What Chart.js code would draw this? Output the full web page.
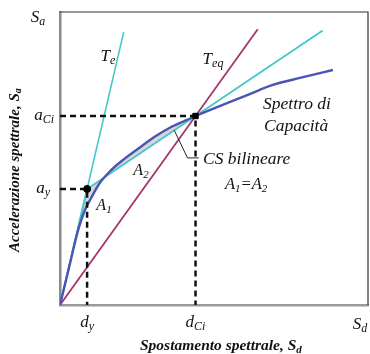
<!DOCTYPE html>
<html>
<head>
<meta charset="utf-8">
<script src="https://cdn.jsdelivr.net/npm/chart.js@4"></script>
<style>
  body { margin: 0; background: #fff; }
  #wrap { width: 370px; height: 354px; }
</style>
</head>
<body>
<div id="wrap"><canvas id="myChart"></canvas></div>
<script>
// punti caratteristici (unita' arbitrarie Sd / Sa)
const dyVal = 8.8, ayVal = 39.6;
const dCiVal = 44, aCiVal = 64.5;

// spettro di capacita'
const capX = [0, 2.9, 5.9, 8.1, 10.1, 12.7, 16.0, 20.8, 25.7, 30.6, 35.5, 40.4, 44.0, 52.8, 61.6, 69.1, 77.9, 88.6];
const capY = [0, 12.6, 25.6, 32.4, 36.5, 41.3, 45.4, 49.8, 53.6, 57.3, 60.4, 62.8, 64.5, 68.3, 72.0, 75.1, 77.5, 80.2];

// rette
const teX = [0, 20.7], teY = [0, 93.2];
const bilX = [0, dyVal, dCiVal, 85.3], bilY = [0, ayVal, aCiVal, 93.7];
const teqX = [0, 64.2], teqY = [0, 94.1];

function pts(xs, ys) {
  return xs.map((x, i) => ({ x: x, y: ys[i] }));
}

const capPts = pts(capX, capY);
const capPart = capPts.filter(p => p.x <= dCiVal);
const bilPart = pts(bilX, bilY).filter(p => p.x <= dCiVal);

const serif = "'Liberation Serif', 'DejaVu Serif', serif";

// testo con pedice, restituisce la larghezza
function sub(ctx, base, s, x, y, size, align, weight) {
  const w = weight ? weight + " " : "";
  const fb = w + "italic " + size + "px " + serif;
  const fs = w + "italic " + Math.round(size * 0.68) + "px " + serif;
  ctx.font = fb;
  const w1 = ctx.measureText(base).width;
  ctx.font = fs;
  const w2 = ctx.measureText(s).width;
  let x0 = x;
  if (align === "center") x0 = x - (w1 + w2) / 2;
  if (align === "right") x0 = x - (w1 + w2);
  ctx.textAlign = "left";
  ctx.textBaseline = "middle";
  ctx.font = fb;
  ctx.fillText(base, x0, y);
  ctx.font = fs;
  ctx.fillText(s, x0 + w1, y + size * 0.25);
  return w1 + w2;
}

const frame = {
  id: "frame",
  beforeDatasetsDraw(chart) {
    const c = chart.ctx, a = chart.chartArea;
    c.save();
    c.strokeStyle = "#333";
    c.lineWidth = 1.2;
    c.beginPath();
    c.moveTo(a.left, a.top);
    c.lineTo(a.right, a.top);
    c.lineTo(a.right, a.bottom);
    c.stroke();
    c.restore();
  }
};

const labels = {
  id: "labels",
  afterDraw(chart) {
    const ctx = chart.ctx;
    const xs = chart.scales.x, ys = chart.scales.y;
    const a = chart.chartArea;
    ctx.save();
    ctx.fillStyle = "#111";
    // tick
    sub(ctx, "a", "Ci", a.left - 6, ys.getPixelForValue(aCiVal), 17, "right");
    sub(ctx, "a", "y", a.left - 10, ys.getPixelForValue(ayVal), 17, "right");
    sub(ctx, "d", "y", xs.getPixelForValue(dyVal), a.bottom + 18, 17, "center");
    sub(ctx, "d", "Ci", xs.getPixelForValue(dCiVal), a.bottom + 18, 17, "center");
    sub(ctx, "S", "d", a.right - 8, a.bottom + 20, 17, "center");
    sub(ctx, "S", "a", 38, 18, 17, "center");
    // curve
    sub(ctx, "T", "e", 108, 57, 17, "center");
    sub(ctx, "T", "eq", 213, 60, 17, "center");
    sub(ctx, "A", "2", 141, 171, 16, "center");
    sub(ctx, "A", "1", 104, 206, 16, "center");
    ctx.font = "italic 17.5px " + serif;
    ctx.textAlign = "left";
    ctx.textBaseline = "middle";
    ctx.fillText("Spettro di", 263, 104);
    ctx.fillText("Capacità", 264, 126);
    ctx.fillText("CS bilineare", 203, 159);
    const wA1 = sub(ctx, "A", "1", 225, 185, 16.5, "left");
    ctx.font = "italic 16.5px " + serif;
    ctx.fillText("=", 225 + wA1, 185);
    sub(ctx, "A", "2", 225 + wA1 + ctx.measureText("=").width, 185, 16.5, "left");
    // titoli assi
    sub(ctx, "Spostamento spettrale, S", "d", 140, 346, 15.5, "left", "bold");
    ctx.translate(15, 252);
    ctx.rotate(-Math.PI / 2);
    sub(ctx, "Accelerazione spettrale, S", "a", 0, 0, 15, "left", "bold");
    ctx.restore();
  }
};

const noTicks = { display: false, padding: 0 };
const noGrid = { display: false, drawTicks: false, tickLength: 0 };

const ctx = document.getElementById("myChart");
new Chart(ctx, {
  type: "scatter",
  data: {
    datasets: [
      {
        label: "punti",
        data: [{ x: dyVal, y: ayVal }, { x: dCiVal, y: aCiVal }],
        pointStyle: ["circle", "rect"],
        pointRadius: [3.5, 3.8],
        backgroundColor: "#000",
        borderColor: "#000",
        order: 0
      },
      {
        label: "dash ay",
        data: [{ x: 0, y: ayVal }, { x: dyVal, y: ayVal }, { x: dyVal, y: 0 }],
        showLine: true,
        borderColor: "#111",
        borderWidth: 2.5,
        borderDash: [6, 4],
        pointRadius: 0,
        order: 1
      },
      {
        label: "dash aCi",
        data: [{ x: 0, y: aCiVal }, { x: dCiVal, y: aCiVal }, { x: dCiVal, y: 0 }],
        showLine: true,
        borderColor: "#111",
        borderWidth: 2.5,
        borderDash: [6, 4],
        pointRadius: 0,
        order: 1
      },
      {
        label: "richiamo",
        data: [{ x: 37.1, y: 59.6 }, { x: 41.4, y: 50.2 }, { x: 45.0, y: 50.2 }],
        showLine: true,
        borderColor: "#222",
        borderWidth: 1,
        pointRadius: 0,
        order: 1
      },
      {
        label: "Te",
        data: pts(teX, teY),
        showLine: true,
        borderColor: "#45c6c8",
        borderWidth: 1.6,
        pointRadius: 0,
        order: 3
      },
      {
        label: "bilineare",
        data: pts(bilX, bilY),
        showLine: true,
        borderColor: "#45c6c8",
        borderWidth: 1.8,
        pointRadius: 0,
        order: 3
      },
      {
        label: "Teq",
        data: pts(teqX, teqY),
        showLine: true,
        borderColor: "#a3366c",
        borderWidth: 1.8,
        pointRadius: 0,
        order: 4
      },
      {
        label: "Spettro di Capacita",
        data: capPts,
        showLine: true,
        borderColor: "#4a54b2",
        borderWidth: 2.4,
        cubicInterpolationMode: "monotone",
        pointRadius: 0,
        order: 2
      },
      {
        label: "area",
        data: bilPart,
        showLine: true,
        borderWidth: 0,
        pointRadius: 0,
        fill: "+1",
        backgroundColor: "rgba(175,175,175,0.5)",
        order: 5
      },
      {
        label: "area cap",
        data: capPart,
        showLine: true,
        borderWidth: 0,
        borderColor: "rgba(0,0,0,0)",
        cubicInterpolationMode: "monotone",
        pointRadius: 0,
        order: 6
      }
    ]
  },
  options: {
    responsive: true,
    maintainAspectRatio: false,
    animation: false,
    layout: { autoPadding: false, padding: { left: 60, top: 12, right: 2, bottom: 49 } },
    plugins: {
      legend: { display: false },
      tooltip: { enabled: false }
    },
    scales: {
      x: {
        type: "linear", min: 0, max: 100,
        ticks: noTicks,
        grid: noGrid,
        border: { color: "#9a9a9a", width: 2.5 }
      },
      y: {
        type: "linear", min: 0, max: 100,
        ticks: noTicks,
        grid: noGrid,
        border: { color: "#8a8a8a", width: 2.5 }
      }
    }
  },
  plugins: [frame, labels]
});
</script>
</body>
</html>
